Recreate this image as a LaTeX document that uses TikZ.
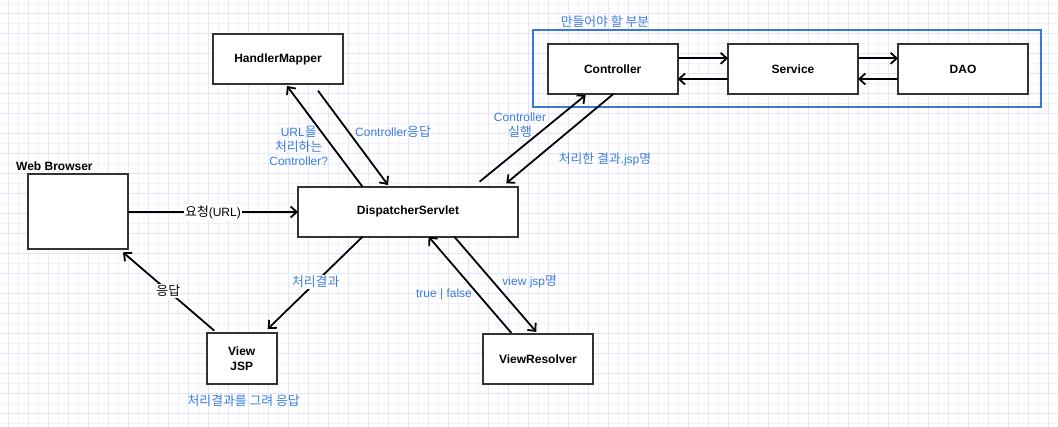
\documentclass[tikz,border=0pt]{standalone}
\usepackage{fontspec}
\setmainfont{Liberation Sans}
\newfontfamily\kr[Scale=1.07]{Noto Sans CJK KR}
\usetikzlibrary{arrows.meta,calc}
\definecolor{gridA}{RGB}{228,228,250}
\definecolor{gridB}{RGB}{241,241,252}
\definecolor{lblue}{RGB}{59,125,221}
\definecolor{bblue}{RGB}{58,120,216}
\definecolor{edgec}{RGB}{51,51,51}
\newcommand\fs{\fontsize{12}{14.3}\selectfont}
\begin{document}
\begin{tikzpicture}[x=1pt,y=-1pt,
  box/.style={draw=edgec, line width=2pt, fill=white, font=\fs\bfseries, inner sep=0pt, outer sep=0pt, align=center},
  arr/.style={draw=black, line width=1.8pt, -{Straight Barb[length=6pt,width=11pt]}},
  lbl/.style={text=lblue, font=\fs, align=center, inner sep=1pt},
  onlbl/.style={font=\fs, align=center, fill=white, inner sep=1pt}]
\useasboundingbox (0,0) rectangle (1058,427);
\fill[white] (0,0) rectangle (1058,427);
% grid
\foreach \x in {18,38,...,1058} \draw[gridB, line width=1pt] (\x,0) -- (\x,427);
\foreach \y in {4,24,...,427} \draw[gridB, line width=1pt] (0,\y) -- (1058,\y);
\foreach \x in {8,28,...,1058} \draw[gridA, line width=1pt] (\x,0) -- (\x,427);
\foreach \y in {14,34,...,427} \draw[gridA, line width=1pt] (0,\y) -- (1058,\y);

% group frame
\node[draw=bblue, line width=2pt, minimum width=508pt, minimum height=76.7pt, inner sep=0pt, outer sep=0pt] (grp) at (787,68.35) {};
\node[lbl] (grpl) at (605,21.7) {{\kr 만들어야 할 부분}};

% boxes
\node[box, minimum width=130pt, minimum height=50pt] (hm) at (278,59) {HandlerMapper};
\node[box, minimum width=100pt, minimum height=75pt] (wb) at (78,211.5) {};
\node[anchor=west, font=\fs\bfseries, inner sep=0pt] (wbl) at (16,166) {Web Browser};
\node[box, minimum width=220pt, minimum height=50pt] (ds) at (408,211.7) {DispatcherServlet};
\node[box, minimum width=130pt, minimum height=50pt] (ctrl) at (612.7,69) {Controller};
\node[box, minimum width=130pt, minimum height=50pt] (svc) at (793,69) {Service};
\node[box, minimum width=130pt, minimum height=50pt] (dao) at (963,69) {DAO};
\node[box, minimum width=70pt, minimum height=51pt] (view) at (241.7,358.8) {View\\JSP};
\node[box, minimum width=110pt, minimum height=50pt] (vr) at (538,359.2) {ViewResolver};

% connectors
\draw[arr] (wb.east |- 0,212) -- (ds.west |- 0,212)
  node[onlbl, midway] {{\kr 요청}(URL)};
\draw[arr] ($(ds.north west)+(64.5,0)$) -- ($(hm.south west)+(74,2)$);
\draw[arr] ($(hm.south west)+(105,6.7)$) -- ($(ds.north west)+(90,-1.7)$);
\draw[arr] ($(ds.north west)+(181.6,-5)$) -- ($(ctrl.south west)+(38,1)$);
\draw[arr] ($(ctrl.south west)+(65.6,0)$) -- ($(ds.north west)+(208.3,-3.4)$);
\draw[arr] ($(ctrl.east)+(0,-10.7)$) -- ($(svc.west)+(0,-10.7)$);
\draw[arr] ($(svc.west)+(0,10)$) -- ($(ctrl.east)+(0,10)$);
\draw[arr] ($(svc.east)+(0,-10.7)$) -- ($(dao.west)+(0,-10.7)$);
\draw[arr] ($(dao.west)+(0,10)$) -- ($(svc.east)+(0,10)$);
\draw[arr] ($(ds.south west)+(64.6,0)$) -- ($(view.north west)+(61,-4.3)$);
\draw[arr] ($(view.north west)+(7.6,-2.6)$) -- ($(wb.south east)+(-5,3.3)$);
\draw[arr] ($(vr.north west)+(28.3,-1.3)$) -- ($(ds.south west)+(130.6,0)$);
\draw[arr] ($(ds.south west)+(156.3,0)$) -- ($(vr.north west)+(53.3,-2.3)$);

% labels
\node[lbl] (l1) at (298.7,146) {URL{\kr 을}\\{\kr 처리하는}\\Controller?};
\node[lbl] (l2) at (393,131.7) {Controller{\kr 응답}};
\node[lbl] (l3) at (520,125) {Controller\\{\kr 실행}};
\node[lbl] (l4) at (605,159.3) {{\kr 처리한 결과}.jsp{\kr 명}};
\node[onlbl, text=lblue] (l5) at (315.7,281.7) {{\kr 처리결과}};
\node[onlbl] (l6) at (168.3,291) {{\kr 응답}};
\node[lbl] (l7) at (444,294.3) {true | false};
\node[lbl] (l8) at (529.7,281) {view jsp{\kr 명}};
\node[lbl] (l9) at (243.7,400.7) {{\kr 처리결과를 그려 응답}};
\end{tikzpicture}
\end{document}
